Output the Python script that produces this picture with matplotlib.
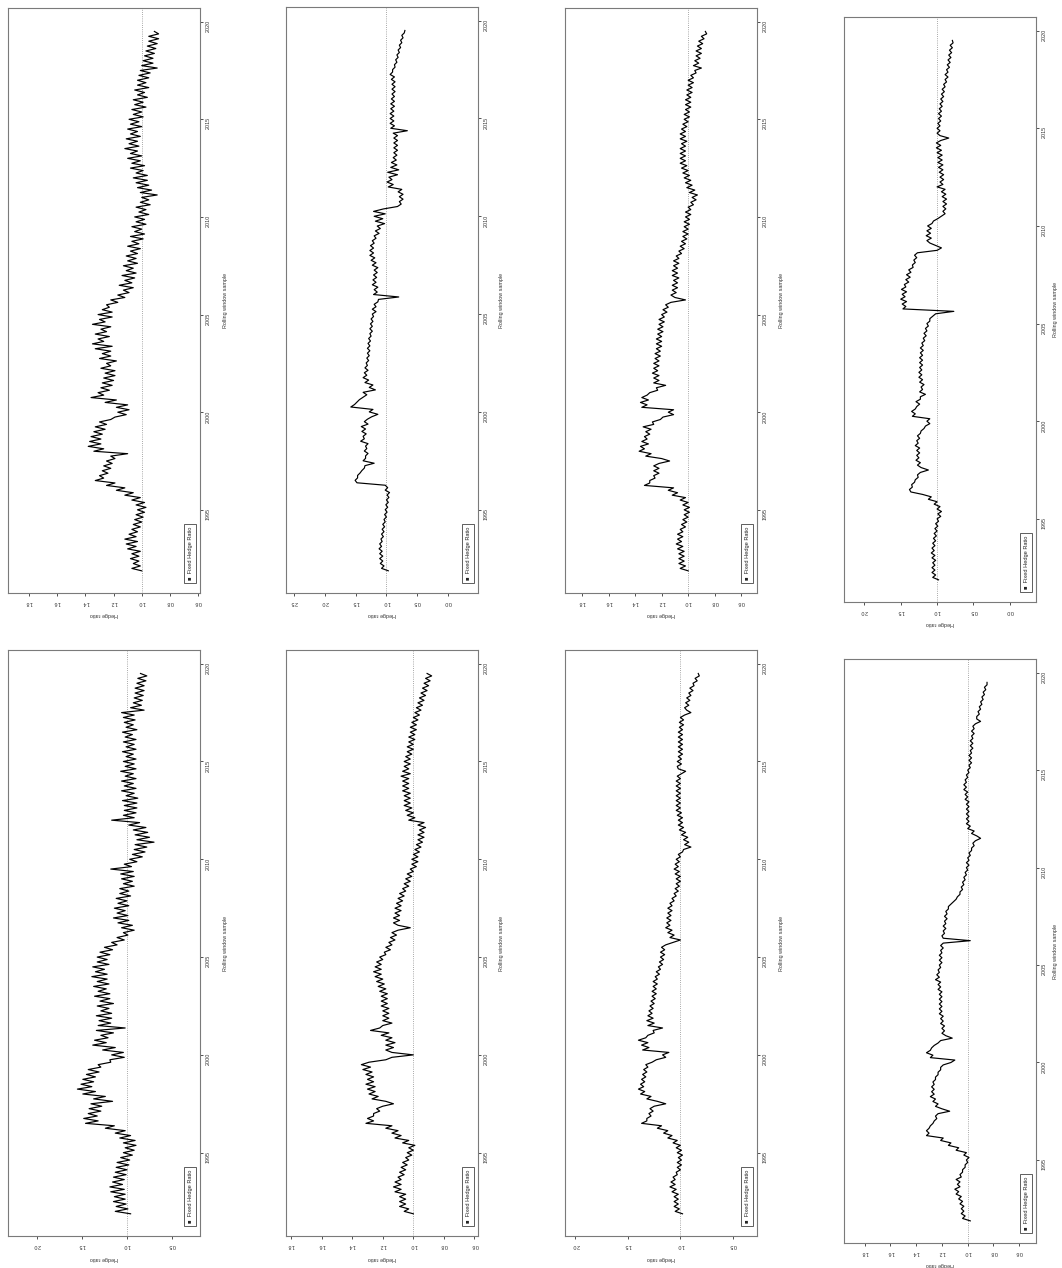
import numpy as np
import matplotlib
matplotlib.use("Agg")
import matplotlib.pyplot as plt

plt.rcParams['font.family'] = ['Liberation Sans', 'DejaVu Sans']

# ------------------------------------------------------------------
# Rolling window hedge ratios, 8 values a year
# (first value late 1991, then one row per year 1992 .. 2019)
# ------------------------------------------------------------------
t0 = 1991.875
step = 0.125

hr_top_1 = [1.00,
    1.07, 1.01, 1.06, 1.02, 1.08, 1.02, 1.07, 1.01,
    1.10, 1.04, 1.11, 1.03, 1.12, 1.04, 1.09, 1.03,
    1.07, 1.01, 1.06, 1.00, 1.05, 0.99, 1.04, 0.98,
    1.03, 0.97, 1.04, 0.98, 1.07, 1.01, 1.12, 1.06,
    1.18, 1.12, 1.25, 1.19, 1.33, 1.27, 1.30, 1.24,
    1.28, 1.22, 1.27, 1.21, 1.25, 1.19, 1.22, 1.10,
    1.34, 1.27, 1.38, 1.29, 1.37, 1.29, 1.36, 1.28,
    1.34, 1.26, 1.33, 1.25, 1.30, 1.22, 1.19, 1.11,
    1.17, 1.09, 1.18, 1.10, 1.26, 1.18, 1.36, 1.27,
    1.31, 1.23, 1.29, 1.21, 1.28, 1.20, 1.27, 1.19,
    1.26, 1.19, 1.29, 1.22, 1.25, 1.18, 1.30, 1.22,
    1.28, 1.22, 1.33, 1.21, 1.35, 1.27, 1.31, 1.23,
    1.33, 1.25, 1.29, 1.22, 1.35, 1.26, 1.30, 1.21,
    1.31, 1.21, 1.28, 1.23, 1.25, 1.17, 1.22, 1.12,
    1.17, 1.09, 1.13, 1.06, 1.16, 1.07, 1.12, 1.05,
    1.14, 1.04, 1.11, 1.06, 1.13, 1.03, 1.10, 1.04,
    1.11, 1.03, 1.08, 1.01, 1.10, 1.02, 1.07, 0.99,
    1.08, 0.98, 1.05, 1.00, 1.07, 0.97, 1.04, 0.98,
    1.05, 0.95, 1.02, 0.97, 1.04, 0.94, 1.01, 0.95,
    1.00, 0.89, 1.01, 0.93, 1.03, 0.95, 1.04, 0.96,
    1.06, 0.96, 1.04, 0.99, 1.08, 0.98, 1.07, 1.01,
    1.10, 1.00, 1.08, 1.03, 1.12, 1.02, 1.09, 1.03,
    1.11, 1.01, 1.08, 1.03, 1.10, 1.00, 1.08, 1.02,
    1.09, 0.99, 1.06, 1.00, 1.07, 0.97, 1.05, 0.99,
    1.06, 0.96, 1.03, 0.98, 1.05, 0.95, 1.03, 0.97,
    1.03, 0.95, 1.02, 0.94, 1.01, 0.89, 1.00, 0.92,
    0.99, 0.92, 0.98, 0.91, 0.97, 0.90, 0.96, 0.89,
    0.95, 0.88, 0.95, 0.88, 0.91]

hr_top_2 = [0.97,
    1.08, 1.04, 1.10, 1.06, 1.11, 1.06, 1.11, 1.07,
    1.12, 1.08, 1.11, 1.07, 1.09, 1.05, 1.08, 1.04,
    1.07, 1.03, 1.06, 1.02, 1.04, 1.00, 1.03, 0.99,
    1.02, 0.98, 1.01, 0.97, 1.00, 0.96, 0.99, 0.95,
    1.02, 0.98, 1.02, 1.48, 1.51, 1.47, 1.47, 1.43,
    1.40, 1.36, 1.35, 1.20, 1.38, 1.34, 1.34, 1.30,
    1.36, 1.32, 1.34, 1.30, 1.42, 1.36, 1.38, 1.33,
    1.40, 1.34, 1.41, 1.30, 1.36, 1.31, 1.24, 1.14,
    1.28, 1.22, 1.58, 1.52, 1.48, 1.44, 1.38, 1.32,
    1.38, 1.18, 1.28, 1.22, 1.35, 1.29, 1.38, 1.32,
    1.36, 1.30, 1.35, 1.31, 1.33, 1.29, 1.32, 1.28,
    1.31, 1.27, 1.31, 1.27, 1.30, 1.26, 1.29, 1.25,
    1.27, 1.23, 1.27, 1.23, 1.26, 1.22, 1.25, 1.21,
    1.23, 1.17, 1.23, 1.17, 1.20, 1.14, 1.13, 0.80,
    1.21, 1.15, 1.20, 1.14, 1.23, 1.17, 1.22, 1.16,
    1.21, 1.15, 1.20, 1.14, 1.23, 1.17, 1.25, 1.19,
    1.27, 1.21, 1.27, 1.21, 1.26, 1.20, 1.23, 1.17,
    1.20, 1.12, 1.18, 1.10, 1.15, 1.03, 1.18, 1.06,
    1.20, 1.02, 1.21, 1.05, 0.82, 0.76, 0.79, 0.73,
    0.79, 0.73, 0.81, 0.75, 0.97, 0.89, 0.99, 0.91,
    0.96, 0.82, 0.98, 0.80, 0.93, 0.83, 0.92, 0.84,
    0.89, 0.83, 0.88, 0.82, 0.88, 0.82, 0.88, 0.82,
    0.88, 0.82, 0.89, 0.66, 0.93, 0.87, 0.94, 0.88,
    0.94, 0.88, 0.94, 0.88, 0.93, 0.87, 0.93, 0.87,
    0.92, 0.87, 0.91, 0.86, 0.91, 0.86, 0.91, 0.86,
    0.92, 0.87, 0.94, 0.90, 0.90, 0.86, 0.87, 0.83,
    0.85, 0.81, 0.83, 0.79, 0.81, 0.77, 0.79, 0.75,
    0.77, 0.73, 0.75, 0.71, 0.70]

hr_top_3 = [1.00,
    1.06, 1.02, 1.07, 1.03, 1.07, 1.03, 1.07, 1.03,
    1.08, 1.04, 1.09, 1.05, 1.08, 1.04, 1.08, 1.04,
    1.06, 1.02, 1.05, 1.01, 1.04, 1.00, 1.03, 0.99,
    1.03, 0.99, 1.04, 1.00, 1.06, 1.02, 1.12, 1.08,
    1.15, 1.11, 1.33, 1.29, 1.29, 1.25, 1.26, 1.22,
    1.26, 1.22, 1.26, 1.22, 1.14, 1.20, 1.32, 1.28,
    1.37, 1.33, 1.36, 1.30, 1.35, 1.31, 1.33, 1.29,
    1.32, 1.28, 1.34, 1.26, 1.27, 1.21, 1.19, 1.11,
    1.15, 1.11, 1.35, 1.31, 1.36, 1.30, 1.35, 1.31,
    1.29, 1.23, 1.24, 1.17, 1.26, 1.22, 1.26, 1.22,
    1.27, 1.23, 1.26, 1.22, 1.26, 1.22, 1.25, 1.21,
    1.25, 1.21, 1.24, 1.20, 1.24, 1.20, 1.24, 1.20,
    1.23, 1.19, 1.23, 1.19, 1.22, 1.18, 1.22, 1.18,
    1.20, 1.16, 1.19, 1.15, 1.17, 1.13, 1.02, 1.10,
    1.13, 1.09, 1.12, 1.08, 1.12, 1.08, 1.11, 1.07,
    1.12, 1.08, 1.12, 1.08, 1.11, 1.07, 1.11, 1.07,
    1.09, 1.05, 1.07, 1.03, 1.06, 1.02, 1.05, 1.01,
    1.04, 1.00, 1.04, 1.00, 1.03, 0.99, 1.03, 0.99,
    1.02, 0.98, 1.02, 0.98, 1.00, 0.96, 0.98, 0.94,
    0.97, 0.93, 0.99, 0.95, 1.01, 0.97, 1.02, 0.98,
    1.03, 0.99, 1.04, 1.00, 1.05, 1.01, 1.06, 1.02,
    1.06, 1.02, 1.06, 1.02, 1.06, 1.02, 1.05, 1.01,
    1.06, 1.02, 1.06, 1.02, 1.05, 1.01, 1.04, 1.00,
    1.03, 0.99, 1.03, 0.99, 1.02, 0.98, 1.02, 0.98,
    1.02, 0.98, 1.01, 0.97, 1.01, 0.97, 1.00, 0.96,
    1.00, 0.96, 0.98, 0.94, 0.95, 0.90, 0.96, 0.92,
    0.95, 0.91, 0.94, 0.90, 0.94, 0.90, 0.93, 0.89,
    0.92, 0.88, 0.90, 0.86, 0.87]

hr_top_4 = [0.98,
    1.06, 1.02, 1.07, 1.03, 1.07, 1.03, 1.06, 1.02,
    1.07, 1.03, 1.08, 1.04, 1.07, 1.03, 1.06, 1.02,
    1.05, 1.01, 1.04, 1.00, 1.03, 0.99, 1.02, 0.98,
    1.00, 0.95, 0.99, 0.94, 1.00, 0.96, 1.04, 1.00,
    1.12, 1.08, 1.20, 1.36, 1.38, 1.34, 1.35, 1.31,
    1.30, 1.26, 1.27, 1.23, 1.12, 1.22, 1.27, 1.23,
    1.29, 1.25, 1.28, 1.24, 1.28, 1.24, 1.30, 1.26,
    1.28, 1.24, 1.27, 1.23, 1.22, 1.18, 1.16, 1.10,
    1.14, 1.10, 1.34, 1.30, 1.35, 1.30, 1.28, 1.24,
    1.29, 1.23, 1.23, 1.16, 1.24, 1.20, 1.22, 1.18,
    1.24, 1.20, 1.25, 1.21, 1.25, 1.21, 1.24, 1.20,
    1.24, 1.20, 1.24, 1.20, 1.23, 1.19, 1.23, 1.19,
    1.21, 1.17, 1.19, 1.15, 1.18, 1.14, 1.16, 1.12,
    1.14, 1.10, 1.10, 1.06, 1.02, 0.77, 1.47, 1.43,
    1.48, 1.42, 1.50, 1.44, 1.48, 1.42, 1.49, 1.43,
    1.45, 1.39, 1.43, 1.37, 1.42, 1.36, 1.39, 1.33,
    1.34, 1.30, 1.32, 1.28, 1.31, 1.27, 1.00, 0.94,
    1.02, 1.10, 1.14, 1.08, 1.15, 1.09, 1.14, 1.08,
    1.13, 1.07, 1.05, 0.99, 0.94, 0.89, 0.92, 0.88,
    0.92, 0.87, 0.92, 0.87, 0.93, 0.88, 0.94, 0.89,
    1.00, 0.92, 0.96, 0.91, 0.96, 0.91, 0.97, 0.92,
    0.98, 0.92, 0.99, 0.93, 0.99, 0.93, 1.00, 0.94,
    1.01, 0.95, 1.01, 0.95, 0.84, 0.96, 1.00, 0.96,
    1.00, 0.96, 0.99, 0.95, 0.98, 0.94, 0.98, 0.94,
    0.97, 0.93, 0.96, 0.92, 0.95, 0.91, 0.94, 0.90,
    0.93, 0.89, 0.91, 0.87, 0.89, 0.85, 0.89, 0.85,
    0.87, 0.83, 0.86, 0.82, 0.85, 0.81, 0.84, 0.80,
    0.83, 0.79, 0.82, 0.78, 0.79]

hr_bot_1 = [0.96,
    1.13, 0.99, 1.12, 1.01, 1.15, 1.02, 1.14, 1.02,
    1.18, 1.03, 1.19, 1.05, 1.16, 1.03, 1.15, 1.01,
    1.13, 1.00, 1.12, 0.98, 1.11, 0.97, 1.07, 0.94,
    1.04, 0.92, 1.02, 0.90, 1.04, 0.91, 1.08, 0.96,
    1.13, 1.02, 1.24, 1.14, 1.46, 1.32, 1.48, 1.33,
    1.43, 1.29, 1.42, 1.28, 1.40, 1.16, 1.37, 1.24,
    1.49, 1.35, 1.55, 1.39, 1.51, 1.37, 1.49, 1.35,
    1.45, 1.31, 1.43, 1.29, 1.32, 1.18, 1.19, 1.03,
    1.17, 1.04, 1.27, 1.13, 1.38, 1.23, 1.36, 1.21,
    1.29, 1.15, 1.34, 1.02, 1.32, 1.18, 1.31, 1.17,
    1.34, 1.17, 1.29, 1.20, 1.33, 1.15, 1.30, 1.19,
    1.36, 1.19, 1.32, 1.23, 1.37, 1.20, 1.33, 1.22,
    1.39, 1.22, 1.35, 1.25, 1.38, 1.20, 1.33, 1.22,
    1.33, 1.19, 1.30, 1.16, 1.25, 1.11, 1.17, 1.03,
    1.11, 0.99, 1.04, 0.92, 1.06, 0.94, 1.10, 0.98,
    1.15, 0.99, 1.11, 1.02, 1.14, 0.98, 1.10, 1.00,
    1.12, 0.96, 1.08, 0.98, 1.08, 0.92, 1.04, 0.94,
    1.06, 0.92, 1.07, 0.93, 1.18, 0.95, 1.03, 0.89,
    0.97, 0.83, 0.94, 0.80, 0.92, 0.78, 0.91, 0.70,
    0.89, 0.75, 0.91, 0.77, 0.93, 0.79, 0.98, 0.86,
    1.17, 0.92, 1.04, 0.90, 1.03, 0.89, 1.03, 0.89,
    1.05, 0.88, 1.01, 0.92, 1.06, 0.90, 1.03, 0.93,
    1.06, 0.90, 1.02, 0.93, 1.07, 0.90, 1.02, 0.92,
    1.04, 0.90, 1.01, 0.93, 1.05, 0.90, 1.01, 0.92,
    1.04, 0.90, 1.02, 0.94, 1.05, 0.89, 1.01, 0.93,
    1.03, 0.91, 1.04, 0.92, 1.06, 0.81, 0.96, 0.84,
    0.93, 0.83, 0.92, 0.82, 0.91, 0.81, 0.91, 0.81,
    0.89, 0.79, 0.88, 0.78, 0.85]

hr_bot_2 = [1.00,
    1.06, 1.03, 1.09, 1.05, 1.09, 1.05, 1.09, 1.05,
    1.12, 1.08, 1.13, 1.08, 1.12, 1.08, 1.10, 1.06,
    1.09, 1.05, 1.08, 1.04, 1.07, 1.03, 1.05, 1.01,
    1.04, 1.00, 1.03, 0.99, 1.07, 1.03, 1.12, 1.08,
    1.14, 1.10, 1.18, 1.14, 1.31, 1.26, 1.30, 1.26,
    1.26, 1.22, 1.24, 1.20, 1.13, 1.18, 1.27, 1.23,
    1.29, 1.25, 1.30, 1.25, 1.31, 1.26, 1.30, 1.26,
    1.31, 1.27, 1.33, 1.28, 1.34, 1.29, 1.18, 1.14,
    1.00, 1.14, 1.18, 1.13, 1.18, 1.12, 1.18, 1.14,
    1.21, 1.16, 1.28, 1.22, 1.20, 1.14, 1.20, 1.16,
    1.20, 1.16, 1.20, 1.16, 1.21, 1.17, 1.21, 1.17,
    1.21, 1.17, 1.22, 1.18, 1.23, 1.19, 1.24, 1.20,
    1.25, 1.21, 1.26, 1.21, 1.25, 1.21, 1.24, 1.20,
    1.22, 1.18, 1.19, 1.15, 1.18, 1.14, 1.16, 1.12,
    1.15, 1.11, 1.14, 1.10, 1.02, 1.10, 1.13, 1.09,
    1.13, 1.09, 1.12, 1.08, 1.12, 1.08, 1.11, 1.07,
    1.10, 1.06, 1.09, 1.05, 1.07, 1.03, 1.06, 1.02,
    1.05, 1.01, 1.04, 1.00, 1.02, 0.98, 1.01, 0.97,
    1.01, 0.97, 1.00, 0.96, 0.99, 0.95, 0.98, 0.94,
    0.97, 0.93, 0.97, 0.93, 0.96, 0.92, 0.97, 0.93,
    1.03, 0.99, 1.04, 1.00, 1.05, 1.01, 1.06, 1.02,
    1.06, 1.02, 1.06, 1.02, 1.07, 1.03, 1.07, 1.03,
    1.07, 1.03, 1.08, 1.02, 1.07, 1.03, 1.06, 1.02,
    1.06, 1.02, 1.05, 1.01, 1.04, 1.00, 1.04, 1.00,
    1.03, 0.99, 1.03, 0.99, 1.02, 0.98, 1.02, 0.98,
    1.01, 0.97, 1.00, 0.96, 0.99, 0.95, 0.98, 0.94,
    0.97, 0.93, 0.96, 0.92, 0.95, 0.91, 0.94, 0.90,
    0.93, 0.89, 0.92, 0.88, 0.91]

hr_bot_3 = [0.98,
    1.05, 1.01, 1.06, 1.02, 1.06, 1.02, 1.06, 1.02,
    1.08, 1.04, 1.10, 1.05, 1.09, 1.05, 1.07, 1.03,
    1.04, 1.00, 1.03, 0.99, 1.03, 0.99, 1.02, 0.98,
    1.03, 0.99, 1.04, 1.00, 1.07, 1.03, 1.12, 1.08,
    1.16, 1.12, 1.22, 1.18, 1.37, 1.32, 1.32, 1.28,
    1.30, 1.26, 1.29, 1.25, 1.14, 1.22, 1.32, 1.28,
    1.38, 1.34, 1.40, 1.35, 1.38, 1.34, 1.37, 1.33,
    1.36, 1.32, 1.35, 1.31, 1.33, 1.27, 1.23, 1.14,
    1.17, 1.11, 1.36, 1.30, 1.37, 1.31, 1.40, 1.33,
    1.31, 1.25, 1.26, 1.17, 1.31, 1.25, 1.32, 1.26,
    1.31, 1.27, 1.30, 1.26, 1.29, 1.25, 1.28, 1.24,
    1.27, 1.23, 1.27, 1.23, 1.26, 1.22, 1.26, 1.22,
    1.24, 1.20, 1.23, 1.19, 1.21, 1.17, 1.20, 1.16,
    1.19, 1.15, 1.19, 1.15, 1.18, 1.14, 1.07, 1.00,
    1.10, 1.06, 1.12, 1.08, 1.14, 1.10, 1.13, 1.09,
    1.13, 1.09, 1.12, 1.08, 1.12, 1.08, 1.10, 1.06,
    1.08, 1.04, 1.06, 1.02, 1.05, 1.01, 1.04, 1.00,
    1.04, 1.00, 1.05, 1.01, 1.06, 1.02, 1.05, 1.01,
    1.04, 1.00, 1.02, 0.98, 0.97, 0.90, 0.96, 0.92,
    0.97, 0.93, 0.99, 0.95, 1.01, 0.97, 1.02, 0.98,
    1.02, 0.98, 1.03, 0.99, 1.04, 1.00, 1.04, 1.00,
    1.04, 1.00, 1.04, 1.00, 1.04, 1.00, 1.04, 1.00,
    1.04, 1.00, 1.03, 0.99, 0.95, 1.02, 1.03, 0.99,
    1.03, 0.99, 1.02, 0.98, 1.02, 0.98, 1.02, 0.98,
    1.02, 0.98, 1.02, 0.98, 1.02, 0.98, 1.01, 0.97,
    1.01, 0.97, 1.00, 0.96, 0.90, 0.94, 0.96, 0.92,
    0.95, 0.91, 0.94, 0.90, 0.92, 0.88, 0.91, 0.87,
    0.88, 0.84, 0.86, 0.82, 0.83]

hr_bot_4 = [0.98,
    1.04, 1.02, 1.05, 1.03, 1.05, 1.03, 1.06, 1.04,
    1.07, 1.05, 1.09, 1.07, 1.10, 1.06, 1.08, 1.06,
    1.09, 1.05, 1.06, 1.04, 1.04, 1.02, 1.02, 1.00,
    1.01, 0.99, 1.03, 1.01, 1.09, 1.07, 1.15, 1.13,
    1.21, 1.19, 1.32, 1.30, 1.32, 1.30, 1.29, 1.27,
    1.26, 1.24, 1.25, 1.23, 1.14, 1.20, 1.25, 1.23,
    1.27, 1.25, 1.29, 1.26, 1.28, 1.26, 1.28, 1.26,
    1.27, 1.25, 1.25, 1.23, 1.23, 1.21, 1.21, 1.19,
    1.13, 1.10, 1.29, 1.27, 1.32, 1.29, 1.28, 1.26,
    1.23, 1.21, 1.12, 1.17, 1.20, 1.18, 1.20, 1.18,
    1.21, 1.19, 1.21, 1.19, 1.22, 1.20, 1.22, 1.20,
    1.22, 1.20, 1.22, 1.20, 1.22, 1.20, 1.23, 1.21,
    1.23, 1.21, 1.25, 1.22, 1.24, 1.22, 1.23, 1.21,
    1.22, 1.20, 1.22, 1.20, 1.22, 1.20, 1.21, 1.19,
    1.21, 1.19, 0.98, 1.19, 1.20, 1.18, 1.19, 1.17,
    1.19, 1.17, 1.18, 1.16, 1.18, 1.16, 1.17, 1.15,
    1.15, 1.13, 1.11, 1.09, 1.08, 1.06, 1.06, 1.04,
    1.05, 1.03, 1.04, 1.02, 1.03, 1.01, 1.02, 1.00,
    1.01, 0.99, 1.01, 0.99, 1.00, 0.98, 0.99, 0.97,
    0.97, 0.95, 0.96, 0.94, 0.90, 0.93, 0.97, 0.95,
    1.00, 0.98, 1.01, 0.99, 1.01, 0.99, 1.01, 0.99,
    1.01, 0.99, 1.01, 0.99, 1.02, 1.00, 1.02, 1.00,
    1.03, 1.01, 1.03, 1.01, 1.02, 1.00, 1.01, 0.99,
    1.00, 0.98, 0.99, 0.97, 0.99, 0.97, 0.99, 0.97,
    0.98, 0.96, 0.98, 0.96, 0.98, 0.96, 0.97, 0.95,
    0.97, 0.95, 0.96, 0.94, 0.90, 0.93, 0.93, 0.91,
    0.92, 0.90, 0.91, 0.89, 0.90, 0.88, 0.89, 0.87,
    0.88, 0.86, 0.87, 0.85, 0.85]

# tick values on the hedge ratio axis of each panel
ticks_fine = [0.6, 0.8, 1.0, 1.2, 1.4, 1.6, 1.8]
ticks_half_a = [0.0, 0.5, 1.0, 1.5, 2.0, 2.5]
ticks_half_b = [0.0, 0.5, 1.0, 1.5, 2.0]
ticks_half_c = [0.5, 1.0, 1.5, 2.0]
year_ticks = [1995, 2000, 2005, 2010, 2015, 2020]

# ------------------------------------------------------------------
# Layout: the page is turned a quarter turn, so time runs upwards and
# the hedge ratio grows to the left.  Boxes in pixels (l, r, top, bottom)
# ------------------------------------------------------------------
W, H = 1062, 1268
panels = [
    (hr_top_1, (8, 200, 8, 593), (1.95, 0.586), ticks_fine, 26),
    (hr_top_2, (286, 478, 7, 593), (2.635, -0.49), ticks_half_a, 24),
    (hr_top_3, (565, 757, 8, 593), (1.93, 0.48), ticks_fine, 24),
    (hr_top_4, (844, 1036, 17, 602), (2.28, -0.36), ticks_half_b, 20),
    (hr_bot_1, (8, 200, 650, 1236), (2.32, 0.19), ticks_half_c, 26),
    (hr_bot_2, (286, 478, 650, 1236), (1.833, 0.577), ticks_fine, 24),
    (hr_bot_3, (565, 757, 650, 1236), (2.10, 0.27), ticks_half_c, 24),
    (hr_bot_4, (844, 1036, 659, 1243), (1.96, 0.47), ticks_fine, 20),
]

frame_col = '#7a7a7a'
fs = 3.9

fig = plt.figure(figsize=(W / 100, H / 100), dpi=100)

for series, (l, r, t, b), xlim, ticks, lab_off in panels:
    ax = fig.add_axes([l / W, 1 - b / H, (r - l) / W, (b - t) / H])
    years = t0 + step * np.arange(len(series))

    ax.axvline(1.0, color='#8c8c8c', lw=0.6, ls=(0, (1, 1.6)), zorder=1)
    ax.plot(series, years, color='black', lw=0.85, zorder=2)

    ax.set_xlim(*xlim)
    ax.set_ylim(1990.74, 2020.7)

    ax.set_xticks(ticks)
    ax.set_xticklabels([f"{v:.1f}" for v in ticks])
    ax.set_yticks(year_ticks)
    ax.set_yticklabels([str(y) for y in year_ticks])
    ax.yaxis.tick_right()

    ax.tick_params(axis='x', labelrotation=180, length=2.2, width=0.6,
                   pad=3.0, labelsize=fs, colors='#333333')
    ax.tick_params(axis='y', labelrotation=90, length=2.2, width=0.6,
                   pad=2.0, labelsize=fs, colors='#333333')
    for sp in ax.spines.values():
        sp.set_color(frame_col)
        sp.set_linewidth(0.8)

    h_px = b - t
    w_px = r - l
    ax.text(0.5, -22 / h_px, "Hedge ratio", transform=ax.transAxes,
            rotation=180, ha='center', va='center', fontsize=fs,
            color='#333333')
    ax.text(1 + lab_off / w_px, 0.5, "Rolling window sample",
            transform=ax.transAxes, rotation=90, ha='center', va='center',
            fontsize=fs, color='#333333')

    # legend box ("Fixed Hedge Ratio" with a filled square)
    ax.text(0.948, 0.022, "\u25a0  Fixed Hedge Ratio", transform=ax.transAxes,
            rotation=90, ha='center', va='bottom', fontsize=4.1,
            color='#222222',
            bbox=dict(boxstyle='square,pad=0.55', fc='white',
                      ec='#444444', lw=0.6))

fig.savefig("out.png", dpi=100)
